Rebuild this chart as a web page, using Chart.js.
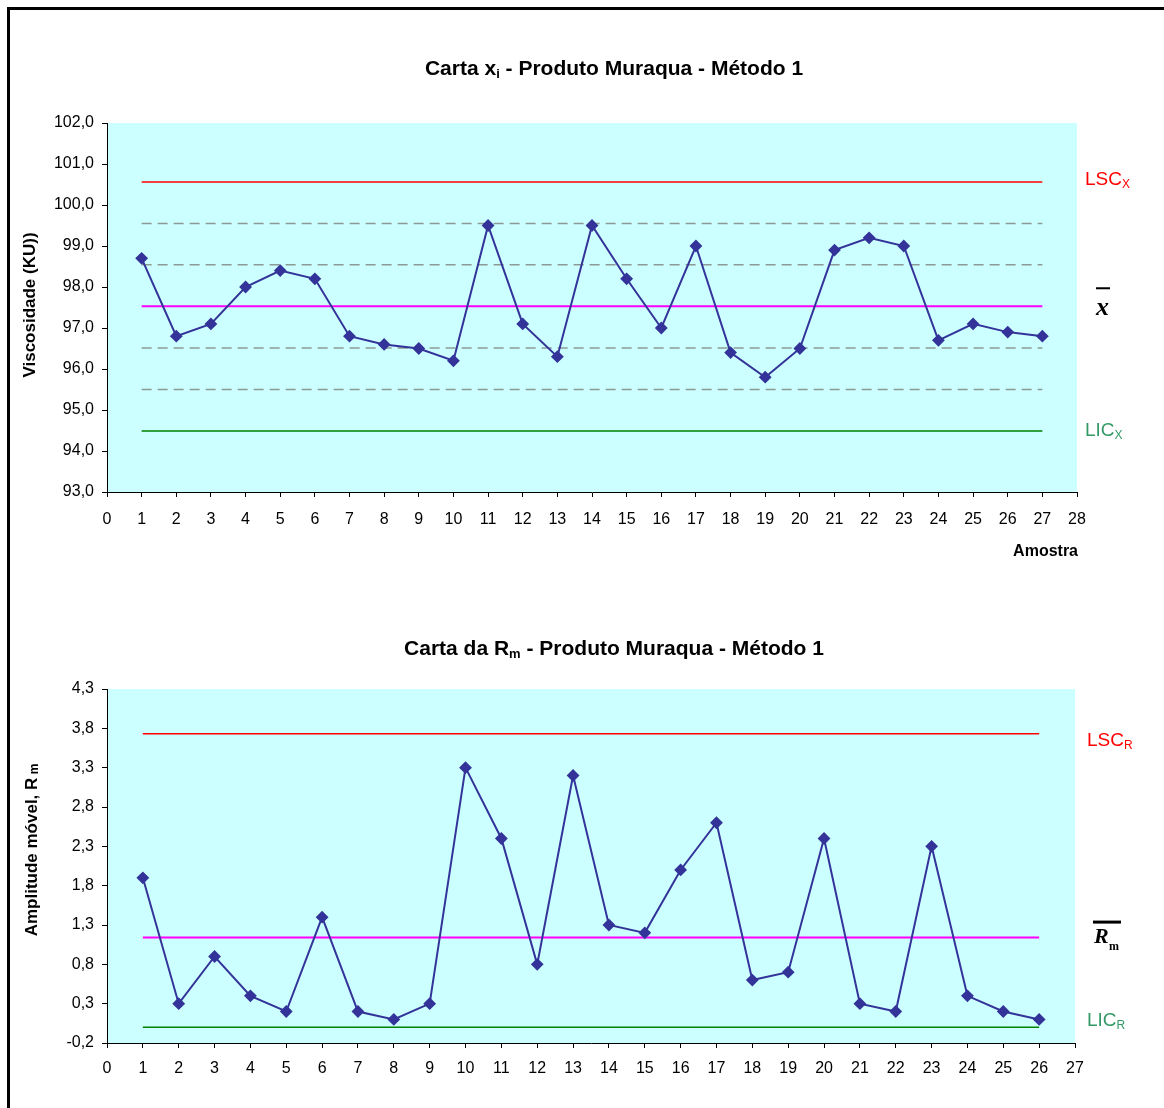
<!DOCTYPE html>
<html>
<head>
<meta charset="utf-8">
<script src="https://cdn.jsdelivr.net/npm/chart.js@4.4.1/dist/chart.umd.min.js"></script>
<style>
  body { margin: 0; background: #fff; }
  #frame { position: absolute; left: 7px; top: 7px; width: 1200px; height: 1200px;
           border-top: 3px solid #000; border-left: 3px solid #000; }
  canvas { position: absolute; left: 0; }
  #cx { top: 0; }
  #cr { top: 580px; }
</style>
</head>
<body>
<div id="frame"></div>
<canvas id="cx" width="1164" height="580"></canvas>
<canvas id="cr" width="1164" height="528"></canvas>
<script>
// carta x
const amostrasX = [1, 2, 3, 4, 5, 6, 7, 8, 9, 10, 11, 12, 13, 14, 15, 16, 17, 18, 19, 20, 21, 22, 23, 24, 25, 26, 27];
const viscosidade = [98.7, 96.8, 97.1, 98.0, 98.4, 98.2, 96.8, 96.6, 96.5, 96.2, 99.5, 97.1, 96.3, 99.5,
                     98.2, 97.0, 99.0, 96.4, 95.8, 96.5, 98.9, 99.2, 99.0, 96.7, 97.1, 96.9, 96.8];
const limitesX = [100.56, 97.53, 94.49];      // LSC, media, LIC
const sigmasX = [99.55, 98.54, 96.51, 95.50];  // linhas tracejadas
const ticksX = [93, 94, 95, 96, 97, 98, 99, 100, 101, 102];

// carta Rm
const amostrasR = [1, 2, 3, 4, 5, 6, 7, 8, 9, 10, 11, 12, 13, 14, 15, 16, 17, 18, 19, 20, 21, 22, 23, 24, 25, 26];
const amplitude = [1.9, 0.3, 0.9, 0.4, 0.2, 1.4, 0.2, 0.1, 0.3, 3.3, 2.4, 0.8, 3.2, 1.3,
                   1.2, 2.0, 2.6, 0.6, 0.7, 2.4, 0.3, 0.2, 2.3, 0.4, 0.2, 0.1];
const limitesR = [3.73, 1.14, 0];              // LSC, media, LIC
const ticksR = [-0.2, 0.3, 0.8, 1.3, 1.8, 2.3, 2.8, 3.3, 3.8, 4.3];

const FONT = '"Liberation Sans", Arial, sans-serif';
const SERIF = '"Liberation Serif", "Times New Roman", serif';
Chart.defaults.color = '#000';
Chart.defaults.font.family = FONT;

function virgula(v) {
  return v.toFixed(1).replace('.', ',');
}

// write text made of pieces (for subscripts)
function rich(ctx, parts, x, y, align) {
  let w = 0;
  parts.forEach(p => { ctx.font = p.font; w += ctx.measureText(p.t).width; });
  let cx = align === 'center' ? x - w / 2 : (align === 'right' ? x - w : x);
  ctx.textAlign = 'left';
  ctx.textBaseline = 'middle';
  parts.forEach(p => {
    ctx.font = p.font;
    ctx.fillStyle = p.color || '#000';
    ctx.fillText(p.t, cx, y + (p.dy || 0));
    cx += ctx.measureText(p.t).width;
  });
}

function hline(xs, y, color, width, dash) {
  return {
    data: [{ x: xs[0], y: y }, { x: xs[xs.length - 1], y: y }],
    borderColor: color,
    borderWidth: width,
    borderDash: dash || [],
    pointRadius: 0
  };
}

const fundo = {
  id: 'fundo',
  beforeDraw(chart) {
    const a = chart.chartArea;
    chart.ctx.save();
    chart.ctx.fillStyle = '#CCFFFF';
    chart.ctx.fillRect(a.left, a.top, a.right - a.left, a.bottom - a.top);
    chart.ctx.restore();
  }
};

function baseOptions(xmax, ticks, bottomPad, xPad) {
  return {
    responsive: false,
    animation: false,
    layout: { padding: { left: 0, right: 87, top: 0, bottom: bottomPad } },
    plugins: { legend: { display: false }, tooltip: { enabled: false } },
    scales: {
      x: {
        type: 'linear', min: 0, max: xmax,
        afterFit: s => { s.height = 40; },
        grid: { drawOnChartArea: false, color: '#000', tickLength: 5 },
        border: { color: '#000', width: 1 },
        ticks: { stepSize: 1, autoSkip: false, maxRotation: 0, padding: xPad, font: { size: 16 } }
      },
      y: {
        min: ticks[0], max: ticks[ticks.length - 1],
        afterFit: s => { s.width = 107; },
        afterBuildTicks: s => { s.ticks = ticks.map(v => ({ value: v })); },
        grid: { drawOnChartArea: false, color: '#000', tickLength: 5 },
        border: { color: '#000', width: 1 },
        ticks: { padding: 8, font: { size: 16 }, callback: v => virgula(v) }
      }
    }
  };
}

const dotStyle = {
  borderColor: '#333399',
  backgroundColor: '#333399',
  borderWidth: 2,
  pointStyle: 'rectRot',
  pointRadius: 5,
  tension: 0
};

// ---- carta x ----
const optX = baseOptions(28, ticksX, 48, 13);
optX.layout.padding.top = 123;

new Chart(document.getElementById('cx'), {
  type: 'line',
  data: {
    datasets: [
      Object.assign({ data: amostrasX.map((a, i) => ({ x: a, y: viscosidade[i] })) }, dotStyle),
      hline(amostrasX, limitesX[0], '#FF0000', 1.5),
      hline(amostrasX, sigmasX[0], '#8C9A96', 1.5, [10, 6]),
      hline(amostrasX, sigmasX[1], '#8C9A96', 1.5, [10, 6]),
      hline(amostrasX, limitesX[1], '#FF00FF', 2),
      hline(amostrasX, sigmasX[2], '#8C9A96', 1.5, [10, 6]),
      hline(amostrasX, sigmasX[3], '#8C9A96', 1.5, [10, 6]),
      hline(amostrasX, limitesX[2], '#008000', 1.5)
    ]
  },
  options: optX,
  plugins: [fundo, {
    id: 'textosX',
    afterDraw(chart) {
      const ctx = chart.ctx, y = chart.scales.y;
      const B = 'bold 21px ' + FONT;
      ctx.save();
      rich(ctx, [{ t: 'Carta x', font: B }, { t: 'i', font: 'bold 13px ' + FONT, dy: 5 },
                 { t: ' - Produto Muraqua - Método 1', font: B }], 614, 69, 'center');
      ctx.translate(30, 305);
      ctx.rotate(-Math.PI / 2);
      rich(ctx, [{ t: 'Viscosidade (KU))', font: 'bold 17px ' + FONT }], 0, 0, 'center');
      ctx.restore();
      ctx.save();
      rich(ctx, [{ t: 'Amostra', font: 'bold 16px ' + FONT }], 1078, 552, 'right');
      rich(ctx, [{ t: 'LSC', font: '19px ' + FONT, color: '#FF0000' },
                 { t: 'X', font: '12px ' + FONT, color: '#FF0000', dy: 5 }], 1085, y.getPixelForValue(limitesX[0]) - 2, 'left');
      rich(ctx, [{ t: 'LIC', font: '19px ' + FONT, color: '#339966' },
                 { t: 'X', font: '12px ' + FONT, color: '#339966', dy: 5 }], 1085, y.getPixelForValue(limitesX[2]), 'left');
      // x barra
      const ym = y.getPixelForValue(limitesX[1]);
      ctx.font = 'bold italic 26px ' + SERIF;
      ctx.textBaseline = 'alphabetic';
      ctx.fillStyle = '#000';
      ctx.fillText('x', 1096, ym + 9);
      ctx.fillRect(1096, ym - 19, 14, 2);
      ctx.restore();
    }
  }]
});

// ---- carta Rm ----
const optR = baseOptions(27, ticksR, 25, 11);
optR.layout.padding.top = 109;
optR.layout.padding.right = 89;

new Chart(document.getElementById('cr'), {
  type: 'line',
  data: {
    datasets: [
      Object.assign({ data: amostrasR.map((a, i) => ({ x: a, y: amplitude[i] })) }, dotStyle),
      hline(amostrasR, limitesR[0], '#FF0000', 1.5),
      hline(amostrasR, limitesR[1], '#FF00FF', 2),
      hline(amostrasR, limitesR[2], '#008000', 1.5)
    ]
  },
  options: optR,
  plugins: [fundo, {
    id: 'textosR',
    afterDraw(chart) {
      const ctx = chart.ctx, y = chart.scales.y;
      const B = 'bold 21px ' + FONT;
      ctx.save();
      rich(ctx, [{ t: 'Carta da R', font: B }, { t: 'm', font: 'bold 13px ' + FONT, dy: 5 },
                 { t: ' - Produto Muraqua - Método 1', font: B }], 614, 69, 'center');
      ctx.translate(32, 270);
      ctx.rotate(-Math.PI / 2);
      rich(ctx, [{ t: 'Amplitude móvel, R', font: 'bold 17px ' + FONT },
                 { t: ' m', font: 'bold 12px ' + FONT, dy: 3 }], 0, 0, 'center');
      ctx.restore();
      ctx.save();
      rich(ctx, [{ t: 'LSC', font: '19px ' + FONT, color: '#FF0000' },
                 { t: 'R', font: '12px ' + FONT, color: '#FF0000', dy: 5 }], 1087, y.getPixelForValue(limitesR[0]) + 7, 'left');
      rich(ctx, [{ t: 'LIC', font: '19px ' + FONT, color: '#339966' },
                 { t: 'R', font: '12px ' + FONT, color: '#339966', dy: 5 }], 1087, y.getPixelForValue(limitesR[2]) - 7, 'left');
      // R barra m
      const ym = y.getPixelForValue(limitesR[1]);
      ctx.fillStyle = '#000';
      ctx.fillRect(1093, ym - 17, 28, 3);
      ctx.textBaseline = 'alphabetic';
      ctx.font = 'bold italic 22px ' + SERIF;
      ctx.fillText('R', 1094, ym + 5);
      ctx.font = 'bold 12px ' + SERIF;
      ctx.fillText('m', 1109, ym + 12);
      ctx.restore();
    }
  }]
});
</script>
</body>
</html>
